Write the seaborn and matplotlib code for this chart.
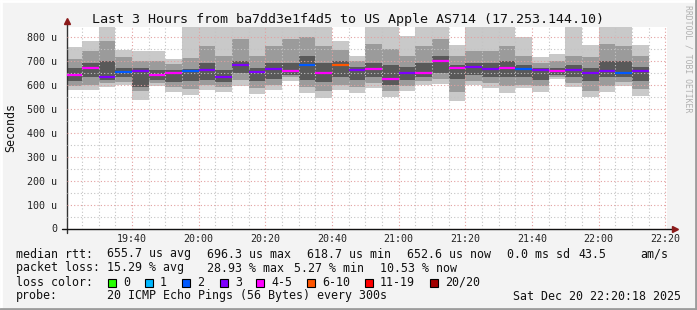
import numpy as np
import pandas as pd
import matplotlib
matplotlib.use("Agg")
import matplotlib.pyplot as plt
import matplotlib.dates as mdates
from matplotlib.patches import Rectangle
from matplotlib.lines import Line2D
import seaborn as sns

# ---------------- data ----------------
bar_start = pd.date_range("2025-12-20 19:20", "2025-12-20 22:10", freq="5min")  # 35 bars
rtt_min = [578, 578, 588, 599, 537, 592, 571, 557, 578, 571, 592, 561, 578, 616, 564, 546, 578, 564,
           585, 550, 575, 599, 602, 530, 599, 585, 565, 585, 571, 623, 588, 550, 571, 592, 554]
rtt_lo1 = [595, 600, 605, 610, 575, 605, 590, 580, 600, 590, 620, 585, 600, 630, 590, 575, 600, 590,
           605, 575, 595, 615, 625, 570, 615, 605, 595, 600, 595, 630, 605, 575, 595, 610, 580]
rtt_lo2 = [615, 630, 618, 630, 590, 620, 610, 615, 620, 610, 650, 615, 625, 640, 620, 610, 630, 620,
           630, 600, 620, 630, 650, 625, 640, 630, 630, 630, 620, 640, 630, 615, 630, 630, 615]
rtt_median = [641, 667, 630, 653, 655, 638, 647, 655, 659, 631, 683, 651, 665, 655, 681, 647, 681, 659,
              665, 622, 649, 649, 697, 667, 672, 665, 667, 665, 659, 655, 659, 647, 655, 647, 655]
rtt_hi2 = [670, 690, 700, 670, 668, 660, 660, 665, 690, 660, 700, 670, 690, 690, 720, 690, 700, 675,
           690, 680, 675, 690, 720, 680, 690, 690, 700, 680, 670, 670, 680, 670, 700, 700, 675]
rtt_hi1 = [705, 740, 780, 715, 700, 700, 685, 710, 760, 720, 790, 720, 760, 790, 800, 760, 745, 700,
           770, 750, 720, 760, 790, 720, 740, 740, 760, 720, 690, 700, 720, 715, 770, 760, 720]
rtt_max = [755, 780, 860, 744, 738, 741, 706, 860, 860, 860, 860, 860, 860, 860, 860, 860, 780, 720,
           860, 860, 801, 860, 860, 764, 860, 860, 860, 797, 717, 729, 860, 767, 860, 860, 767]
loss_class = [4, 4, 3, 2, 3, 4, 4, 2, 3, 3, 3, 3, 3, 4, 2, 4, 5, 3,
              4, 4, 3, 4, 4, 4, 3, 3, 4, 2, 3, 4, 3, 3, 3, 2, 3]

loss_labels = ["0", "1", "2", "3", "4-5", "6-10", "11-19", "20/20"]
loss_colors = ["#26ff00", "#00b8ff", "#0059ff", "#7e00ff", "#ff00ff", "#ff5500", "#ff0000", "#a10000"]

ytick_values = [0, 100, 200, 300, 400, 500, 600, 700, 800]
ytick_labels = ["0", "100 u", "200 u", "300 u", "400 u", "500 u", "600 u", "700 u", "800 u"]

title = "Last 3 Hours from ba7dd3e1f4d5 to US Apple AS714 (17.253.144.10)"
row_rtt = ["median rtt:", "655.7 us avg", "696.3 us max", "618.7 us min", "652.6 us now",
           "0.0 ms sd", "43.5", "am/s"]
row_loss = ["packet loss:", "15.29 % avg", "28.93 % max", "5.27 % min", "10.53 % now"]
probe_text = "20 ICMP Echo Pings (56 Bytes) every 300s"
stamp_text = "Sat Dec 20 22:20:18 2025"

# ---------------- style ----------------
sns.set_style("white")
plt.rcParams["font.family"] = ["DejaVu Sans Mono", "DejaVu Sans"]

W, H = 697, 310
fig = plt.figure(figsize=(W / 100, H / 100), dpi=100)
fig.patch.set_facecolor("#f3f3f3")

def fx(px):
    return px / W

def fy(py):
    return 1 - py / H

ax_left, ax_right, ax_top, ax_bot = 67, 667, 27, 228.5
ax = fig.add_axes([fx(ax_left), fy(ax_bot), (ax_right - ax_left) / W, (ax_bot - ax_top) / H])
ax.set_facecolor("white")

x = mdates.date2num(bar_start.to_pydatetime())
w = 5 / 1440.0

mn, mx = np.array(rtt_min), np.array(rtt_max)
l1, h1 = np.array(rtt_lo1), np.array(rtt_hi1)
l2, h2 = np.array(rtt_lo2), np.array(rtt_hi2)
ax.bar(x, mx - mn, bottom=mn, width=w, align="edge", color="#c9c9c9", linewidth=0, zorder=1)
ax.bar(x, h1 - l1, bottom=l1, width=w, align="edge", color="#9b9b9b", linewidth=0, zorder=1.1)
ax.bar(x, h2 - l2, bottom=l2, width=w, align="edge", color="#595959", linewidth=0, zorder=1.2)
ax.hlines(rtt_median, x, x + w, colors=[loss_colors[c] for c in loss_class], linewidth=1.6, zorder=3)

t0 = pd.Timestamp("2025-12-20 19:20:30")
t1 = pd.Timestamp("2025-12-20 22:20:30")
ax.set_xlim(mdates.date2num(t0.to_pydatetime()), mdates.date2num(t1.to_pydatetime()))
ax.set_ylim(0, 840)

ax.xaxis.set_major_locator(mdates.MinuteLocator(byminute=[0, 20, 40]))
ax.xaxis.set_minor_locator(mdates.MinuteLocator(byminute=range(0, 60, 5)))
ax.xaxis.set_major_formatter(mdates.DateFormatter("%H:%M"))
ax.set_yticks(ytick_values, ytick_labels)
ax.set_yticks(np.arange(50, 850, 100), minor=True)

ax.set_axisbelow(False)
ax.grid(which="major", color="#e3a0a0", linestyle=(0, (1, 2)), linewidth=0.8)
ax.grid(which="minor", color="#c4c4c4", linestyle=(0, (1, 2)), linewidth=0.8)
ax.tick_params(axis="both", which="major", labelsize=7.2, colors="#222222", length=0, pad=4)
ax.tick_params(axis="both", which="minor", length=0)
ax.tick_params(axis="y", pad=7)
for s in ax.spines.values():
    s.set_visible(False)

# axes lines with arrows
ax.add_line(Line2D([0, 0], [-0.02, 1.02], transform=ax.transAxes, color="#333333", lw=1, clip_on=False))
ax.add_line(Line2D([-0.008, 1.01], [0, 0], transform=ax.transAxes, color="#111111", lw=1, clip_on=False))
ax.plot([0], [1.03], marker="^", color="#8b1a1a", markersize=5, transform=ax.transAxes, clip_on=False)
ax.plot([1.014], [0], marker=">", color="#8b1a1a", markersize=5, transform=ax.transAxes, clip_on=False)

# y label
fig.text(fx(10.5), fy(127), "Seconds", rotation=90, ha="center", va="center",
         fontsize=8.4, color="#111111")

# title & watermark
fig.text(fx(348), fy(19), title, ha="center", va="center", fontsize=9.6, color="#111111")
fig.text(fx(688), fy(59), "RRDTOOL / TOBI OETIKER", rotation=-90, ha="center", va="center",
         fontsize=5.9, color="#b0b0b0")

# legend
lfs = 8.4
rtt_x = [16, 107, 207, 307, 407, 507, 578, 640]
for s, px in zip(row_rtt, rtt_x):
    fig.text(fx(px), fy(254), s, ha="left", va="center", fontsize=lfs, color="#111111")
loss_x = [16, 107, 207, 294, 380]
for s, px in zip(row_loss, loss_x):
    fig.text(fx(px), fy(268), s, ha="left", va="center", fontsize=lfs, color="#111111")
fig.text(fx(16), fy(282), "loss color:", ha="left", va="center", fontsize=lfs, color="#111111")
box_x = [108, 145, 182, 220, 256, 307, 365, 430]
for lab, col, bx in zip(loss_labels, loss_colors, box_x):
    fig.patches.append(Rectangle((fx(bx), fy(286.5)), 8 / W, 8 / H, transform=fig.transFigure,
                                 facecolor=col, edgecolor="black", linewidth=0.8))
    fig.text(fx(bx + 15), fy(282), lab, ha="left", va="center", fontsize=lfs, color="#111111")
fig.text(fx(16), fy(296), "probe:", ha="left", va="center", fontsize=lfs, color="#111111")
fig.text(fx(107), fy(296), probe_text, ha="left", va="center", fontsize=lfs, color="#111111")
fig.text(fx(681), fy(296), stamp_text, ha="right", va="center", fontsize=lfs, color="#111111")

# outer frame
fig.add_artist(Line2D([0, 1], [fy(1), fy(1)], transform=fig.transFigure, color="#ffffff", lw=2))
fig.add_artist(Line2D([fx(1), fx(1)], [0, 1], transform=fig.transFigure, color="#ffffff", lw=2))
fig.add_artist(Line2D([0, 1], [fy(309), fy(309)], transform=fig.transFigure, color="#9c9c9c", lw=2))
fig.add_artist(Line2D([fx(696), fx(696)], [0, 1], transform=fig.transFigure, color="#9c9c9c", lw=2))

fig.savefig("out.png", dpi=100, facecolor=fig.get_facecolor())
